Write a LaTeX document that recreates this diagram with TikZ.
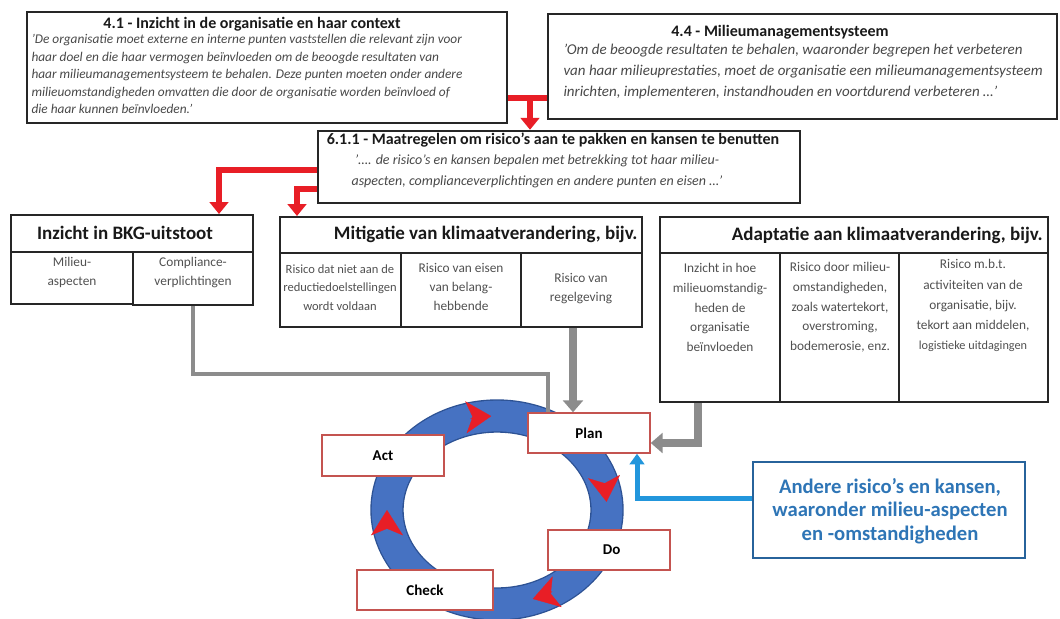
\documentclass[tikz,border=0pt]{standalone}
\usepackage{fontspec}
\setmainfont{Carlito}
\usetikzlibrary{arrows.meta,fit}

\definecolor{arrowred}{RGB}{232,30,38}
\definecolor{arrowgrey}{RGB}{140,140,140}
\definecolor{ringblue}{RGB}{70,114,194}
\definecolor{ringedge}{RGB}{45,82,148}
\definecolor{pdcared}{RGB}{196,84,80}
\definecolor{otherblue}{RGB}{46,117,182}
\definecolor{linkblue}{RGB}{34,150,220}
\definecolor{quotegrey}{RGB}{72,72,72}
\definecolor{cellgrey}{RGB}{80,80,80}

\tikzset{every picture/.style={line width=0.75pt}}
\tikzset{
  quotebox/.style={draw=black!85,line width=1.8pt,inner sep=0pt},
  tablecell/.style={draw=black!85,line width=1.5pt,inner sep=0pt},
  pdcabox/.style={draw=pdcared,line width=1.1pt,fill=white,inner sep=0pt},
  pdcatext/.style={font=\bfseries\fontsize{11.25}{13}\selectfont},
  otherbox/.style={draw=otherblue!85!black,line width=1.3pt,inner sep=0pt},
  boxtitle/.style={inner sep=0.75pt,font=\bfseries\fontsize{12}{14}\selectfont,text=black!90},
  quotetext/.style={inner sep=0.75pt,text=quotegrey,font=\itshape\fontsize{10}{13.1}\selectfont},
  tabletitle/.style={inner sep=0.75pt,font=\bfseries\fontsize{14.25}{17}\selectfont,text=black!90},
  celltext/.style={inner sep=0.75pt,align=center,text=cellgrey,font=\fontsize{10}{14.2}\selectfont},
  redlink/.style={draw=arrowred,line width=4.5pt},
  redarrow/.style={redlink,-{Triangle[width=14pt,length=9pt]}},
  greyline/.style={draw=arrowgrey,line width=3pt},
  greyarrow/.style={draw=arrowgrey,line width=6pt,-{Triangle[width=15pt,length=9pt]}},
  bluearrow/.style={draw=linkblue,line width=3.75pt,-{Triangle[width=11pt,length=8pt]}},
  ringtip/.style={draw=arrowred,fill=arrowred,line width=0.2pt,-{Stealth[length=19pt,width=24pt,inset=5pt]}},
}

\begin{document}
\begin{tikzpicture}[x=0.75pt,y=0.75pt,yscale=-1,xscale=1]
\useasboundingbox (0,0) rectangle (1060,618);

% top boxes
\node[quotebox, fit={(27,12) (507,123)}] (b41) {};
\node[quotebox, fit={(548,14) (1057,119)}] (b44) {};
\node[quotebox, fit={(318,131) (800,203)}] (b611) {};

\draw (252,24) node [boxtitle] (t41) {4.1 - Inzicht in de organisatie en haar context};
\draw (30,33) node [quotetext, anchor=north west, align=left] (q41) {'De organisatie moet externe en interne punten vaststellen die relevant zijn voor\\haar doel en die haar vermogen beïnvloeden om de beoogde resultaten van\\haar milieumanagementsysteem te behalen. Deze punten moeten onder andere\\milieuomstandigheden omvatten die door de organisatie worden beïnvloed of\\die haar kunnen beïnvloeden.'};

\draw (780,32) node [boxtitle] (t44) {4.4 - Milieumanagementsysteem};
\draw (562,43) node [quotetext, anchor=north west, align=left, font=\itshape\fontsize{11.25}{15.5}\selectfont] (q44) {'Om de beoogde resultaten te behalen, waaronder begrepen het verbeteren\\van haar milieuprestaties, moet de organisatie een milieumanagementsysteem\\inrichten, implementeren, instandhouden en voortdurend verbeteren …'};

\draw (553,140) node [boxtitle] (t611) {6.1.1 - Maatregelen om risico's aan te pakken en kansen te benutten};
\draw (537,153) node [quotetext, anchor=north, align=center, font=\itshape\fontsize{10.5}{15.75}\selectfont] (q611) {'…. de risico's en kansen bepalen met betrekking tot haar milieu-\\aspecten, complianceverplichtingen en andere punten en eisen …'};

% table boxes
\node[tablecell, fit={(11,215) (253,252)}] (bkg) {};
\node[tablecell, fit={(11,252) (133,304)}] (asp) {};
\node[tablecell, fit={(133,252) (253,305)}] (cmp) {};

\node[tablecell, fit={(280,217) (642,253)}] (mit) {};
\node[tablecell, fit={(280,253) (401,327)}] (mit1) {};
\node[tablecell, fit={(401,253) (521,327)}] (mit2) {};
\node[tablecell, fit={(521,253) (642,327)}] (reg) {};

\node[tablecell, fit={(660,217) (1048,253)}] (ada) {};
\node[tablecell, fit={(660,253) (780,402)}] (ada1) {};
\node[tablecell, fit={(780,253) (899,402)}] (ada2) {};
\node[tablecell, fit={(899,253) (1048,402)}] (ada3) {};

\draw (125,233) node [tabletitle] (tbkg) {Inzicht in BKG-uitstoot};
\draw (639,234) node [tabletitle, anchor=east] (tmit) {Mitigatie van klimaatverandering, bijv.};
\draw (1044,235) node [tabletitle, anchor=east] (tada) {Adaptatie aan klimaatverandering, bijv.};

\draw (72,256) node [celltext, anchor=north] (casp) {Milieu-\\aspecten};
\draw (193,256) node [celltext, anchor=north] (ccmp) {Compliance-\\verplichtingen};
\draw (340,263) node [celltext, anchor=north, font=\fontsize{9.4}{14}\selectfont] (cmit1) {Risico dat niet aan de\\reductiedoelstellingen\\wordt voldaan};
\draw (461,262) node [celltext, anchor=north] (cmit2) {Risico van eisen\\van belang-\\hebbende};
\draw (581,272) node [celltext, anchor=north] (creg) {Risico van\\regelgeving};
\draw (720,262) node [celltext, anchor=north, font=\fontsize{10}{14.8}\selectfont] (cada1) {Inzicht in hoe\\milieuomstandig-\\heden de\\organisatie\\beïnvloeden};
\draw (840,261) node [celltext, anchor=north, font=\fontsize{10}{14.8}\selectfont] (cada2) {Risico door milieu-\\omstandigheden,\\zoals watertekort,\\overstroming,\\bodemerosie, enz.};
\draw (973,258) node [celltext, anchor=north, font=\fontsize{10}{15.2}\selectfont] (cada3) {Risico m.b.t.\\activiteiten van de\\organisatie, bijv.\\tekort aan middelen,\\{\fontsize{9.2}{15.2}\selectfont logistieke uitdagingen}};

% red connectors
\coordinate (tj) at (530,98);
\coordinate (r1) at (219,170);
\coordinate (r2) at (297,189);
\draw[redlink] (b41.east |- tj) -- (b44.west |- tj);
\draw[redarrow] (tj) -- (tj |- b611.north);
\draw[redarrow] (b611.west |- r1) -| (r1 |- bkg.north);
\draw[redarrow] (b611.west |- r2) -| (r2 |- mit.north);

% PDCA ring
\coordinate (ringc) at (497,510);
\draw[draw=ringedge,line width=25pt] (ringc) ellipse [x radius=110,y radius=94];
\draw[draw=ringblue,line width=23pt] (ringc) ellipse [x radius=110,y radius=94];
\foreach \a in {261,349,65,174}
  \draw[ringtip] ([shift={(\a-5:110 and 94)}]ringc) arc [start angle=\a-5,end angle=\a+6,x radius=110,y radius=94];

\node[pdcabox, fit={(528,413) (650,453)}] (plan) {};
\node[pdcabox, fit={(322,435) (444,476)}] (act) {};
\node[pdcabox, fit={(548,530) (670,570)}] (do) {};
\node[pdcabox, fit={(357,570) (493,610)}] (check) {};
\draw (plan.center) node [pdcatext] (tplan) {Plan};
\draw (act.center) node [pdcatext] (tact) {Act};
\draw (do.center) node [pdcatext, xshift=2pt] (tdo) {Do};
\draw (check.center) node [pdcatext] (tcheck) {Check};

% other risks
\node[otherbox, fit={(753,462) (1025,558)}] (oth) {};
\draw (890,511) node [align=center, text=otherblue, font=\bfseries\fontsize{15.5}{17.8}\selectfont] (toth) {Andere risico's en kansen,\\waaronder milieu-aspecten\\en -omstandigheden};

% grey and blue connectors
\coordinate (g1) at (548,374);
\coordinate (g2) at (573,380);
\coordinate (g3) at (698,443);
\coordinate (bl) at (637,498);
\draw[greyline] (cmp.south) |- (g1) -- (g1 |- plan.north);
\draw[greyarrow] (reg.south -| g2) -- (g2 |- plan.north);
\draw[greyarrow] (ada1.south -| g3) -- (g3) -- (plan.east |- g3);
\draw[bluearrow] (oth.west |- bl) -- (bl) -- (bl |- plan.south);

\end{tikzpicture}
\end{document}
